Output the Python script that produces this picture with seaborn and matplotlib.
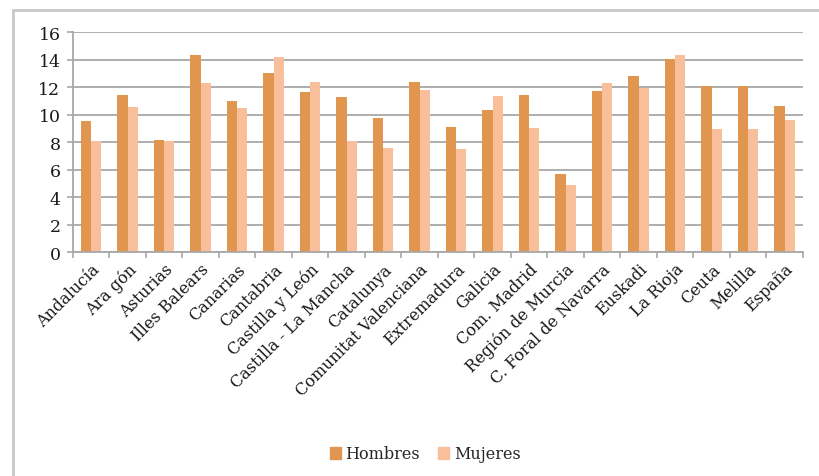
import pandas as pd
import seaborn as sns
import matplotlib.pyplot as plt
from matplotlib.patches import Rectangle

regiones = ['Andalucía', 'Ara gón', 'Asturias', 'Illes Balears', 'Canarias',
            'Cantabria', 'Castilla y León', 'Castilla - La Mancha', 'Catalunya',
            'Comunitat Valenciana', 'Extremadura', 'Galicia', 'Com. Madrid',
            'Región de Murcia', 'C. Foral de Navarra', 'Euskadi', 'La Rioja',
            'Ceuta', 'Melilla', 'España']
hombres = [9.5, 11.45, 8.15, 14.35, 11.0, 13.0, 11.65, 11.3, 9.75, 12.35,
           9.1, 10.3, 11.4, 5.7, 11.7, 12.8, 14.05, 12.1, 12.1, 10.65]
mujeres = [8.05, 10.55, 8.05, 12.3, 10.45, 14.15, 12.4, 8.05, 7.6, 11.8,
           7.5, 11.35, 9.05, 4.9, 12.3, 11.95, 14.35, 8.95, 8.95, 9.6]
yticks = [0, 2, 4, 6, 8, 10, 12, 14, 16]

df = pd.DataFrame({'region': regiones * 2,
                   'valor': hombres + mujeres,
                   'sexo': ['Hombres'] * len(regiones) + ['Mujeres'] * len(regiones)})

sns.set_style('white')
plt.rcParams['font.family'] = ['DejaVu Serif']

fig = plt.figure(figsize=(8.2, 4.77), dpi=100)
ax = fig.add_axes([0.089, 0.4696, 0.89, 0.4612])

sns.barplot(data=df, x='region', y='valor', hue='sexo', ax=ax,
            palette={'Hombres': '#E0964F', 'Mujeres': '#F9BE9A'},
            width=0.56, saturation=1, legend=False, linewidth=0)

ax.set_ylim(0, 16)
ax.set_xlim(-0.5, len(regiones) - 0.5)
ax.set_yticks(yticks)
ax.set_yticklabels([str(v) for v in yticks], fontsize=12.5, color='#1a1a1a')
ax.yaxis.grid(True, color='#A8A8A8', linewidth=1.3)
ax.set_axisbelow(True)
ax.set_xlabel('')
ax.set_ylabel('')

# ticks between categories
ax.set_xticks([i - 0.5 for i in range(len(regiones) + 1)], minor=True)
ax.set_xticks(range(len(regiones)))
ax.set_xticklabels(regiones, rotation=45, ha='right', rotation_mode='anchor',
                   fontsize=11.5, color='#1a1a1a')
ax.tick_params(axis='x', which='major', length=0, pad=6)
ax.tick_params(axis='x', which='minor', length=4, color='#A8A8A8', width=1.2,
               direction='out', bottom=True)
ax.tick_params(axis='y', length=4, color='#A8A8A8', width=1.2, direction='out',
               left=True, pad=5)

for s in ['top', 'right']:
    ax.spines[s].set_visible(False)
for s in ['left', 'bottom']:
    ax.spines[s].set_color('#A8A8A8')
    ax.spines[s].set_linewidth(1.3)

# chart frame (cut off at right and bottom)
fig.add_artist(Rectangle((13 / 820, -0.2), 1.2, 1 - 11 / 477 + 0.2,
                         transform=fig.transFigure, fill=False,
                         edgecolor='#C8C8C8', linewidth=2))

handles = [Rectangle((0, 0), 1, 1, color='#E0964F'),
           Rectangle((0, 0), 1, 1, color='#F9BE9A')]
fig.legend(handles, ['Hombres', 'Mujeres'], loc='center',
           bbox_to_anchor=(425 / 820, 1 - 455 / 477), ncol=2, frameon=False,
           fontsize=11.5, handlelength=0.7, handleheight=0.7, handletextpad=0.3,
           columnspacing=1.1)

fig.savefig('out.png', dpi=100)
